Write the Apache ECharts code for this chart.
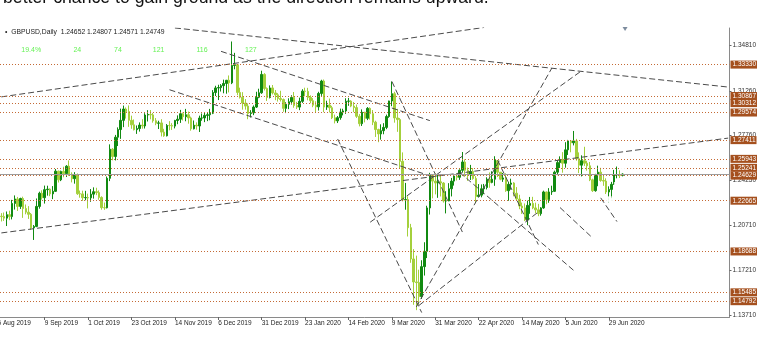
<!DOCTYPE html>
<html><head><meta charset="utf-8">
<script src="https://cdn.jsdelivr.net/npm/echarts@6/dist/echarts.min.js"></script>
<style>html,body{margin:0;padding:0;background:#fff}#c{width:782px;height:347px}</style>
</head><body><div id="c"></div>
<script>
const dates = [
'2019-08-16','2019-08-19','2019-08-20','2019-08-21','2019-08-22','2019-08-23','2019-08-26','2019-08-27','2019-08-28','2019-08-29','2019-08-30',
'2019-09-02','2019-09-03','2019-09-04','2019-09-05','2019-09-06','2019-09-09','2019-09-10','2019-09-11','2019-09-12','2019-09-13',
'2019-09-16','2019-09-17','2019-09-18','2019-09-19','2019-09-20','2019-09-23','2019-09-24','2019-09-25','2019-09-26','2019-09-27',
'2019-09-30','2019-10-01','2019-10-02','2019-10-03','2019-10-04','2019-10-07','2019-10-08','2019-10-09','2019-10-10','2019-10-11',
'2019-10-14','2019-10-15','2019-10-16','2019-10-17','2019-10-18','2019-10-21','2019-10-22','2019-10-23','2019-10-24','2019-10-25',
'2019-10-28','2019-10-29','2019-10-30','2019-10-31','2019-11-01','2019-11-04','2019-11-05','2019-11-06','2019-11-07','2019-11-08',
'2019-11-11','2019-11-12','2019-11-13','2019-11-14','2019-11-15','2019-11-18','2019-11-19','2019-11-20','2019-11-21','2019-11-22',
'2019-11-25','2019-11-26','2019-11-27','2019-11-28','2019-11-29','2019-12-02','2019-12-03','2019-12-04','2019-12-05','2019-12-06',
'2019-12-09','2019-12-10','2019-12-11','2019-12-12','2019-12-13','2019-12-16','2019-12-17','2019-12-18','2019-12-19','2019-12-20',
'2019-12-23','2019-12-24','2019-12-26','2019-12-27','2019-12-30','2019-12-31','2020-01-02','2020-01-03',
'2020-01-06','2020-01-07','2020-01-08','2020-01-09','2020-01-10','2020-01-13','2020-01-14','2020-01-15','2020-01-16','2020-01-17',
'2020-01-20','2020-01-21','2020-01-22','2020-01-23','2020-01-24','2020-01-27','2020-01-28','2020-01-29','2020-01-30','2020-01-31',
'2020-02-03','2020-02-04','2020-02-05','2020-02-06','2020-02-07','2020-02-10','2020-02-11','2020-02-12','2020-02-13','2020-02-14',
'2020-02-17','2020-02-18','2020-02-19','2020-02-20','2020-02-21','2020-02-24','2020-02-25','2020-02-26','2020-02-27','2020-02-28',
'2020-03-02','2020-03-03','2020-03-04','2020-03-05','2020-03-06','2020-03-09','2020-03-10','2020-03-11','2020-03-12','2020-03-13',
'2020-03-16','2020-03-17','2020-03-18','2020-03-19','2020-03-20','2020-03-23','2020-03-24','2020-03-25','2020-03-26','2020-03-27',
'2020-03-30','2020-03-31','2020-04-01','2020-04-02','2020-04-03','2020-04-06','2020-04-07','2020-04-08','2020-04-09','2020-04-10',
'2020-04-13','2020-04-14','2020-04-15','2020-04-16','2020-04-17','2020-04-20','2020-04-21','2020-04-22','2020-04-23','2020-04-24',
'2020-04-27','2020-04-28','2020-04-29','2020-04-30','2020-05-01','2020-05-04','2020-05-05','2020-05-06','2020-05-07','2020-05-08',
'2020-05-11','2020-05-12','2020-05-13','2020-05-14','2020-05-15','2020-05-18','2020-05-19','2020-05-20','2020-05-21','2020-05-22',
'2020-05-25','2020-05-26','2020-05-27','2020-05-28','2020-05-29','2020-06-01','2020-06-02','2020-06-03','2020-06-04','2020-06-05',
'2020-06-08','2020-06-09','2020-06-10','2020-06-11','2020-06-12','2020-06-15','2020-06-16','2020-06-17','2020-06-18','2020-06-19',
'2020-06-22','2020-06-23','2020-06-24','2020-06-25','2020-06-26','2020-06-29','2020-06-30','2020-07-01','2020-07-02','2020-07-03',
'2020-07-06'];
const futureDates = [
'2020-07-07','2020-07-08','2020-07-09','2020-07-10','2020-07-13','2020-07-14','2020-07-15','2020-07-16','2020-07-17',
'2020-07-20','2020-07-21','2020-07-22','2020-07-23','2020-07-24','2020-07-27','2020-07-28','2020-07-29','2020-07-30','2020-07-31',
'2020-08-03','2020-08-04','2020-08-05','2020-08-06','2020-08-07','2020-08-10','2020-08-11','2020-08-12','2020-08-13','2020-08-14',
'2020-08-17','2020-08-18','2020-08-19','2020-08-20','2020-08-21','2020-08-24','2020-08-25','2020-08-26','2020-08-27','2020-08-28'];
// [open, close, low, high]
const ohlc = [
[1.2145,1.2142,1.2104,1.2169],[1.2142,1.2130,1.2108,1.2174],[1.2130,1.2157,1.2068,1.2182],[1.2157,1.2142,1.2114,1.2188],[1.2142,1.2245,1.2120,1.2273],
[1.2245,1.2280,1.2197,1.2308],[1.2280,1.2222,1.2186,1.2296],[1.2222,1.2284,1.2202,1.2290],[1.2284,1.2205,1.2132,1.2298],[1.2205,1.2177,1.2160,1.2237],
[1.2177,1.2160,1.2124,1.2224],[1.2160,1.2054,1.2038,1.2170],[1.2054,1.2065,1.1959,1.2076],[1.2065,1.2222,1.2059,1.2284],[1.2222,1.2325,1.2204,1.2337],
[1.2325,1.2290,1.2275,1.2348],[1.2290,1.2353,1.2244,1.2385],[1.2353,1.2357,1.2306,1.2384],[1.2357,1.2320,1.2302,1.2363],[1.2320,1.2340,1.2279,1.2381],
[1.2340,1.2498,1.2335,1.2515],[1.2498,1.2430,1.2409,1.2502],[1.2430,1.2496,1.2420,1.2502],[1.2496,1.2479,1.2450,1.2533],[1.2479,1.2537,1.2452,1.2545],
[1.2537,1.2474,1.2461,1.2582],[1.2474,1.2439,1.2410,1.2489],[1.2439,1.2469,1.2400,1.2490],[1.2469,1.2321,1.2312,1.2480],[1.2321,1.2320,1.2290,1.2346],
[1.2320,1.2290,1.2265,1.2345],[1.2290,1.2291,1.2270,1.2344],[1.2291,1.2289,1.2206,1.2322],[1.2289,1.2318,1.2258,1.2358],[1.2318,1.2337,1.2283,1.2371],
[1.2337,1.2330,1.2310,1.2368],[1.2330,1.2292,1.2274,1.2347],[1.2292,1.2212,1.2196,1.2301],[1.2212,1.2211,1.2195,1.2252],[1.2211,1.2442,1.2206,1.2456],
[1.2442,1.2670,1.2420,1.2708],[1.2670,1.2613,1.2583,1.2679],[1.2613,1.2764,1.2582,1.2782],[1.2764,1.2824,1.2695,1.2841],[1.2824,1.2896,1.2751,1.2988],
[1.2896,1.2985,1.2843,1.3012],[1.2985,1.2965,1.2910,1.2997],[1.2965,1.2896,1.2845,1.3013],[1.2896,1.2861,1.2830,1.2933],[1.2861,1.2823,1.2817,1.2903],
[1.2823,1.2832,1.2790,1.2856],[1.2832,1.2859,1.2808,1.2880],[1.2859,1.2852,1.2831,1.2905],[1.2852,1.2938,1.2832,1.2952],[1.2938,1.2942,1.2887,1.2976],
[1.2942,1.2939,1.2904,1.2977],[1.2939,1.2893,1.2878,1.2954],[1.2893,1.2874,1.2858,1.2914],[1.2874,1.2876,1.2828,1.2893],[1.2876,1.2804,1.2770,1.2905],
[1.2804,1.2775,1.2767,1.2830],[1.2775,1.2856,1.2770,1.2867],[1.2856,1.2855,1.2818,1.2890],[1.2855,1.2851,1.2821,1.2874],[1.2851,1.2895,1.2833,1.2900],
[1.2895,1.2905,1.2866,1.2935],[1.2905,1.2948,1.2876,1.2978],[1.2948,1.2925,1.2895,1.2957],[1.2925,1.2940,1.2889,1.2986],[1.2940,1.2915,1.2870,1.2965],
[1.2915,1.2830,1.2815,1.2925],[1.2830,1.2858,1.2825,1.2895],[1.2858,1.2852,1.2823,1.2880],[1.2852,1.2914,1.2805,1.2933],[1.2914,1.2915,1.2893,1.2950],
[1.2915,1.2935,1.2882,1.2955],[1.2935,1.2940,1.2890,1.2956],[1.2940,1.2952,1.2897,1.2986],[1.2952,1.3114,1.2945,1.3133],[1.3114,1.3150,1.3087,1.3167],
[1.3150,1.3153,1.3055,1.3175],[1.3153,1.3168,1.3122,1.3180],[1.3168,1.3185,1.3108,1.3215],[1.3185,1.3210,1.3105,1.3213],[1.3210,1.3190,1.3115,1.3248],
[1.3190,1.3326,1.3180,1.3514],[1.3326,1.3332,1.3296,1.3425],[1.3332,1.3115,1.3093,1.3336],[1.3115,1.3077,1.3067,1.3152],[1.3077,1.3032,1.2980,1.3117],
[1.3032,1.3008,1.2980,1.3063],[1.3008,1.2950,1.2905,1.3029],[1.2950,1.2955,1.2918,1.2976],[1.2955,1.3000,1.2937,1.3013],[1.3000,1.3077,1.2993,1.3120],
[1.3077,1.3112,1.3070,1.3144],[1.3112,1.3256,1.3104,1.3285],[1.3256,1.3146,1.3130,1.3266],[1.3146,1.3075,1.3048,1.3154],[1.3075,1.3150,1.3068,1.3170],
[1.3150,1.3111,1.3099,1.3173],[1.3111,1.3096,1.3054,1.3134],[1.3096,1.3067,1.3043,1.3109],[1.3067,1.3059,1.3044,1.3128],[1.3059,1.2990,1.2963,1.3067],
[1.2990,1.3022,1.2953,1.3038],[1.3022,1.3042,1.2984,1.3069],[1.3042,1.3076,1.3020,1.3093],[1.3076,1.3012,1.2995,1.3118],[1.3012,1.3000,1.2985,1.3041],
[1.3000,1.3045,1.2976,1.3074],[1.3045,1.3125,1.3033,1.3140],[1.3125,1.3123,1.3085,1.3152],[1.3123,1.3076,1.3053,1.3151],[1.3076,1.3050,1.3030,1.3092],
[1.3050,1.3015,1.2999,1.3070],[1.3015,1.3002,1.2960,1.3046],[1.3002,1.3107,1.2973,1.3120],[1.3107,1.3204,1.3088,1.3214],[1.3204,1.3000,1.2960,1.3216],
[1.3000,1.3016,1.2978,1.3050],[1.3016,1.2995,1.2958,1.3067],[1.2995,1.2916,1.2906,1.3010],[1.2916,1.2892,1.2872,1.2941],[1.2892,1.2917,1.2875,1.2930],
[1.2917,1.2961,1.2901,1.2988],[1.2961,1.2970,1.2935,1.2987],[1.2970,1.3046,1.2947,1.3069],[1.3046,1.3047,1.3010,1.3072],[1.3047,1.3008,1.2999,1.3054],
[1.3008,1.2996,1.2960,1.3040],[1.2996,1.2928,1.2915,1.3020],[1.2928,1.2870,1.2849,1.2945],[1.2870,1.2960,1.2852,1.2982],[1.2960,1.2912,1.2880,1.2963],
[1.2912,1.2990,1.2898,1.3000],[1.2990,1.2948,1.2902,1.2998],[1.2948,1.2882,1.2859,1.2977],[1.2882,1.2824,1.2766,1.2893],[1.2824,1.2790,1.2725,1.2831],
[1.2790,1.2815,1.2745,1.2865],[1.2815,1.2841,1.2787,1.2874],[1.2841,1.2926,1.2827,1.2941],[1.2926,1.3048,1.2916,1.3050],[1.3048,1.3105,1.3007,1.3200],
[1.3105,1.2915,1.2878,1.3120],[1.2915,1.2902,1.2806,1.2986],[1.2902,1.2575,1.2522,1.2914],[1.2575,1.2273,1.2261,1.2645],[1.2273,1.2275,1.2196,1.2406],
[1.2275,1.2055,1.1986,1.2301],[1.2055,1.1810,1.1780,1.2085],[1.1810,1.1630,1.1451,1.1887],[1.1630,1.1625,1.1409,1.1836],[1.1625,1.1515,1.1452,1.1726],
[1.1515,1.1750,1.1497,1.1800],[1.1750,1.1870,1.1680,1.1941],[1.1870,1.2210,1.1817,1.2227],[1.2210,1.2465,1.2158,1.2485],[1.2465,1.2420,1.2285,1.2475],
[1.2420,1.2405,1.2316,1.2480],[1.2405,1.2415,1.2289,1.2473],[1.2415,1.2405,1.2300,1.2460],[1.2405,1.2265,1.2252,1.2412],[1.2265,1.2265,1.2167,1.2341],
[1.2265,1.2360,1.2262,1.2404],[1.2360,1.2420,1.2300,1.2445],[1.2420,1.2460,1.2385,1.2475],[1.2460,1.2450,1.2425,1.2480],[1.2450,1.2505,1.2430,1.2512],
[1.2505,1.2570,1.2487,1.2648],[1.2570,1.2505,1.2455,1.2590],[1.2505,1.2475,1.2422,1.2526],[1.2475,1.2495,1.2429,1.2547],[1.2495,1.2440,1.2431,1.2523],
[1.2440,1.2300,1.2247,1.2459],[1.2300,1.2310,1.2292,1.2397],[1.2310,1.2360,1.2293,1.2394],[1.2360,1.2370,1.2318,1.2398],[1.2370,1.2435,1.2355,1.2450],
[1.2435,1.2410,1.2368,1.2488],[1.2410,1.2435,1.2403,1.2497],[1.2435,1.2585,1.2383,1.2615],[1.2580,1.2490,1.2452,1.2584],[1.2490,1.2435,1.2427,1.2488],
[1.2435,1.2445,1.2414,1.2484],[1.2445,1.2345,1.2336,1.2481],[1.2345,1.2395,1.2266,1.2415],[1.2395,1.2405,1.2353,1.2439],[1.2405,1.2325,1.2301,1.2412],
[1.2325,1.2280,1.2266,1.2373],[1.2280,1.2225,1.2200,1.2313],[1.2225,1.2210,1.2163,1.2252],[1.2210,1.2115,1.2107,1.2245],[1.2115,1.2230,1.2075,1.2267],
[1.2230,1.2245,1.2164,1.2296],[1.2245,1.2210,1.2200,1.2297],[1.2210,1.2195,1.2169,1.2251],[1.2195,1.2165,1.2145,1.2242],[1.2165,1.2210,1.2149,1.2216],
[1.2210,1.2335,1.2203,1.2345],[1.2335,1.2275,1.2239,1.2338],[1.2275,1.2335,1.2250,1.2365],[1.2335,1.2340,1.2312,1.2384],[1.2340,1.2490,1.2337,1.2502],
[1.2490,1.2565,1.2467,1.2586],[1.2565,1.2590,1.2523,1.2614],[1.2590,1.2560,1.2486,1.2647],[1.2560,1.2665,1.2525,1.2725],[1.2665,1.2735,1.2625,1.2743],
[1.2735,1.2720,1.2646,1.2740],[1.2720,1.2735,1.2700,1.2813],[1.2735,1.2595,1.2580,1.2751],[1.2595,1.2545,1.2483,1.2645],[1.2545,1.2580,1.2457,1.2622],
[1.2580,1.2560,1.2539,1.2689],[1.2560,1.2540,1.2502,1.2579],[1.2540,1.2430,1.2420,1.2570],[1.2430,1.2345,1.2335,1.2439],[1.2345,1.2470,1.2337,1.2477],
[1.2470,1.2490,1.2380,1.2541],[1.2490,1.2425,1.2415,1.2524],[1.2425,1.2420,1.2383,1.2463],[1.2420,1.2335,1.2319,1.2442],[1.2335,1.2355,1.2252,1.2379],
[1.2355,1.2395,1.2265,1.2414],[1.2395,1.2470,1.2390,1.2508],[1.2470,1.2470,1.2442,1.2535],[1.2470,1.2465,1.2444,1.2505],[1.24652,1.24749,1.24571,1.24807]];
const levels = [1.33330,1.30867,1.30312,1.29574,1.27411,1.25943,1.25241,1.24629,1.22665,1.18688,1.15485,1.14792];
const currentPrice = 1.24749;
const yTicks = [1.13710,1.17210,1.20710,1.24250,1.27760,1.31260,1.34810];
const pctLabels = ['19.4%','24','74','121','116','127'];
const pctDates = ['2019-09-02','2019-09-25','2019-10-16','2019-11-06','2019-11-28','2019-12-24'];
const pctPrice = 1.3443;
// [startDate, startPrice, endDate, endPrice]
const trendLines = [
['2019-11-14',1.3620,'2020-08-28',1.3157],
['2019-08-16',1.3080,'2020-04-24',1.3624],
['2019-08-16',1.2014,'2020-08-28',1.2757],
['2019-12-09',1.3437,'2020-03-27',1.2894],
['2019-11-12',1.3136,'2020-03-30',1.2455],
['2020-02-10',1.2750,'2020-03-24',1.1390],
['2020-03-09',1.3201,'2020-04-14',1.2021],
['2020-03-20',1.1434,'2020-05-29',1.3306],
['2020-02-26',1.2098,'2020-06-15',1.3285],
['2020-03-23',1.1446,'2020-05-25',1.2195],
['2020-04-13',1.2488,'2020-06-10',1.1721],
['2020-05-01',1.2584,'2020-05-22',1.1923],
['2020-06-03',1.2213,'2020-06-19',1.1975],
['2020-06-24',1.2289,'2020-07-02',1.2103]
];
const markerDates = ['2020-07-02','2020-07-06','2020-07-02','2020-06-29','2020-06-30'];
const markerPrices = [1.2560,1.2528,1.2390,1.2278,1.2267];
const arrowDate = '2020-07-07', arrowPrice = 1.3612;

const MON = ['Jan','Feb','Mar','Apr','May','Jun','Jul','Aug','Sep','Oct','Nov','Dec'];
const fmtDate = s => { const p = s.split('-'); return (+p[2]) + ' ' + MON[+p[1]-1] + ' ' + p[0]; };
const allDates = dates.concat(futureDates);
const SMALL = '"Liberation Sans", Arial, sans-serif';
const showLbl = i => i > 0 && i % 16 === 0 && i < dates.length;

const chart = echarts.init(document.getElementById('c'));
const series = [
  {
    type: 'candlestick', data: ohlc, barWidth: 2, z: 2, silent: true,
    itemStyle: { color: '#118a11', color0: '#a4d03c', borderColor: '#118a11', borderColor0: '#a4d03c', borderWidth: 1 },
    markLine: {
      symbol: 'none', silent: true, animation: false, precision: 5,
      lineStyle: { type: [1, 2], color: '#c46a35', width: 1 },
      label: { show: true, position: 'end', distance: 1, formatter: p => levels[p.dataIndex].toFixed(5),
        backgroundColor: '#a5501e', color: '#fff', fontSize: 6.5, fontFamily: SMALL, padding: [1, 1, 0, 2] },
      data: levels.map(v => ({ yAxis: v })).concat([{ yAxis: currentPrice, lineStyle: { type: 'solid', color: '#9c9c9c' }, label: { show: false } }])
    }
  },
  {
    type: 'scatter', data: pctDates.map(d => [d, pctPrice]), symbolSize: 1, itemStyle: { color: 'rgba(0,0,0,0)' }, silent: true, z: 6,
    label: { show: true, position: 'inside', formatter: p => pctLabels[p.dataIndex], color: '#3fee2a', fontSize: 7, fontFamily: SMALL }
  },
  {
    type: 'scatter', data: markerDates.map((d, i) => [d, markerPrices[i]]), symbol: 'emptyRect', symbolSize: 4, silent: true, z: 5,
    itemStyle: { color: '#fff', borderColor: '#666', borderWidth: 1 }
  },
  {
    type: 'scatter', data: [[arrowDate, arrowPrice]], symbol: 'triangle', symbolRotate: 180, symbolSize: [5, 4], silent: true, z: 5,
    itemStyle: { color: '#5c6f86' }
  }
].concat(trendLines.map(t => ({
  type: 'line', data: [[t[0], t[1]], [t[2], t[3]]], symbol: 'none', silent: true, z: 4, clip: true,
  lineStyle: { type: [6, 3], width: 1, color: '#4a4a4a' }
})));

chart.setOption({
  animation: false,
  backgroundColor: '#fff',
  grid: { left: -0.5, right: 52.5, top: 28, bottom: 30 },
  xAxis: {
    type: 'category', data: allDates, boundaryGap: true,
    axisLine: { show: true, lineStyle: { color: '#8a8a8a' } },
    axisTick: { show: true, interval: showLbl, alignWithLabel: true, length: 3, lineStyle: { color: '#666' } },
    axisLabel: { interval: showLbl, formatter: fmtDate, align: 'left', fontSize: 6.5, fontFamily: SMALL, color: '#222', margin: 3 },
    splitLine: { show: false }
  },
  yAxis: {
    type: 'value', position: 'right', min: 1.13553, max: 1.36197,
    splitLine: { show: false },
    axisLine: { show: true, lineStyle: { color: '#8a8a8a' } },
    axisTick: { show: true, length: 2, customValues: yTicks, lineStyle: { color: '#666' } },
    axisLabel: { customValues: yTicks, formatter: v => v.toFixed(5), fontSize: 6.5, fontFamily: SMALL, color: '#333', margin: 3 }
  },
  graphic: [
    { type: 'text', x: 3, y: -11, silent: true,
      style: { text: 'better chance to gain ground as the direction remains upward.', font: '17.7px "Liberation Sans", Arial, sans-serif', fill: '#111' } },
    { type: 'text', left: 5, top: 29, silent: true,
      style: { text: '\u2022  GBPUSD,Daily  1.24652 1.24807 1.24571 1.24749', font: '6.8px ' + SMALL, fill: '#222' } },
    { type: 'text', left: -6, top: 320, silent: true,
      style: { text: fmtDate(dates[0]), font: '6.5px ' + SMALL, fill: '#222' } }
  ],
  series: series
});
</script>
</body></html>
